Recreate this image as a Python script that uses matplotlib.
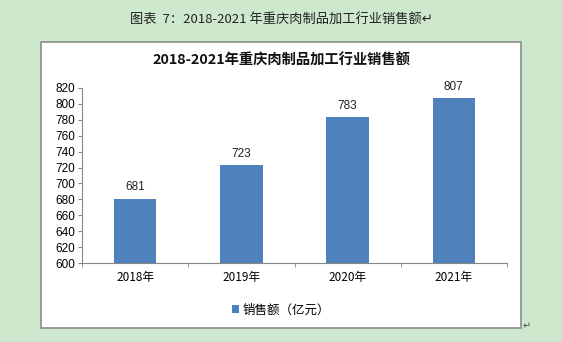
import matplotlib.pyplot as plt
from matplotlib.patches import Rectangle

years = ["2018年", "2019年", "2020年", "2021年"]
sales = [681, 723, 783, 807]
yticks = list(range(600, 821, 20))

cjk = ["Noto Sans CJK SC", "DejaVu Sans"]
num = ["Liberation Sans", "Noto Sans CJK SC"]

fig = plt.figure(figsize=(5.62, 3.42), dpi=100)
fig.patch.set_facecolor("#cde8cd")

# white chart box with grey border, kept behind the axes
box = Rectangle((41 / 562, 1 - 328 / 342), 480 / 562, 286 / 342,
                transform=fig.transFigure, facecolor="white",
                edgecolor="#8c8c8c", linewidth=1.2, zorder=-1)
fig.patches.append(box)

fig.text(0.5, 1 - 20 / 342, "图表  7：2018-2021 年重庆肉制品加工行业销售额↵",
         ha="center", va="center", fontsize=9.5, family=cjk, color="#222222")
fig.text(527 / 562, 1 - 326 / 342, "↵", ha="center", va="center",
         fontsize=7, family=cjk, color="#555555")

# chart title is centred on the box, not on the plot area
fig.text(0.5, 1 - 61 / 342, "2018-2021年重庆肉制品加工行业销售额",
         ha="center", va="center", family=cjk, fontsize=10.3,
         fontweight="bold", color="#111111")

ax = fig.add_axes([82 / 562, 1 - 263 / 342, 425 / 562, 175 / 342])
ax.set_facecolor("white")
x = range(len(years))
bars = ax.bar(x, [s - 600 for s in sales], bottom=600, width=0.4,
              color="#4f81bd", label="销售额（亿元）")
for xi, s in zip(x, sales):
    ax.text(xi, s + 7, str(s), ha="center", va="bottom", fontsize=8.5,
            family=num, color="#222222")

ax.set_xlim(-0.5, len(years) - 0.5)
ax.set_ylim(600, 820)
ax.set_yticks(yticks)
ax.set_yticklabels([str(t) for t in yticks], family=num, fontsize=8.5)
ax.set_xticks(list(x))
ax.set_xticklabels(years, family=cjk, fontsize=8.5)
# small marks between categories
ax.set_xticks([i - 0.5 for i in range(len(years) + 1)], minor=True)
ax.tick_params(axis="x", which="major", length=0, pad=6)
ax.tick_params(axis="x", which="minor", length=3, color="#868686")
ax.tick_params(axis="y", length=3, color="#868686", pad=2)
for side in ["top", "right"]:
    ax.spines[side].set_visible(False)
for side in ["left", "bottom"]:
    ax.spines[side].set_color("#868686")

leg = fig.legend(handles=[bars], labels=["销售额（亿元）"], loc="center",
                 bbox_to_anchor=(0.5, 1 - 310 / 342), frameon=False,
                 prop={"family": cjk, "size": 9}, handlelength=0.6,
                 handleheight=0.6, handletextpad=0.3)

fig.savefig("out.png", dpi=100, facecolor=fig.get_facecolor())
